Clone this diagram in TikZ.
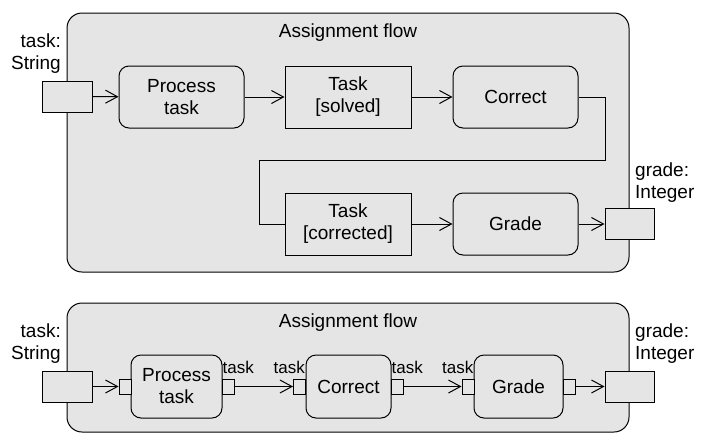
\documentclass[tikz,border=0pt]{standalone}
\usepackage{fontspec}
\setmainfont{Liberation Sans}
\usetikzlibrary{arrows.meta}

\tikzset{
  frame/.style={draw=black, fill=gray!20, rounded corners=15pt, line width=1pt},
  action/.style={draw=black, fill=gray!20, rounded corners=10pt, line width=1pt, align=center, font=\fontsize{19}{22}\selectfont},
  object/.style={draw=black, fill=gray!20, line width=1pt, align=center, font=\fontsize{19}{22}\selectfont, minimum width=126pt, minimum height=62pt},
  param/.style={draw=black, fill=gray!20, line width=1pt, minimum width=50pt, minimum height=31pt, inner sep=0pt},
  port/.style={draw=black, fill=gray!20, line width=1pt, minimum width=12pt, minimum height=15pt, inner sep=0pt},
  txt/.style={font=\fontsize{19}{22}\selectfont, inner sep=0pt},
  small/.style={font=\fontsize{17}{19}\selectfont, inner sep=0pt},
  flow/.style={line width=1pt, -{Straight Barb[length=12pt,width=13pt]}}
}

\begin{document}
\begin{tikzpicture}[x=1pt,y=-1pt]
  \useasboundingbox (0,0) rectangle (711,445);

  % top: objects between actions
  \node (frame1) at (348,142.5) [frame, minimum width=562pt, minimum height=259pt] {};
  \node (title1) at (348,33) [txt] {Assignment flow};

  \node (in1) at (67,96.5) [param] {};
  \node (out1) at (629.5,224) [param, minimum width=49pt] {};
  \node (inlab1) at (61,54) [txt, anchor=east, align=right] {task:\\String};
  \node (outlab1) at (635,183) [txt, anchor=west, align=left] {grade:\\Integer};

  \node (proc1) at (181.5,97) [action, minimum width=125pt, minimum height=62pt] {Process\\task};
  \node (solved) at (348,97) [object] {Task\\{[solved]}};
  \node (corr1) at (515.5,97) [action, minimum width=125pt, minimum height=62pt] {Correct};
  \node (fixed) at (348,224) [object] {Task\\{[corrected]}};
  \node (grade1) at (515.5,224) [action, minimum width=125pt, minimum height=62pt] {Grade};

  \coordinate (turnr) at (605,160);
  \coordinate (turnl) at (259,160);

  \draw[flow] (in1) -- (proc1);
  \draw[flow] (proc1) -- (solved);
  \draw[flow] (solved) -- (corr1);
  \draw[line width=1pt] (corr1.east) -| (turnr) -- (turnl) |- (fixed.west);
  \draw[flow] (fixed) -- (grade1);
  \draw[flow] (grade1) -- (out1);

  % bottom: actions with pins
  \node (frame2) at (348,367.5) [frame, minimum width=562pt, minimum height=129pt] {};
  \node (title2) at (348,323) [txt] {Assignment flow};

  \node (in2) at (67,386.5) [param] {};
  \node (out2) at (629.5,386.5) [param, minimum width=49pt] {};
  \node (inlab2) at (61,344) [txt, anchor=east, align=right] {task:\\String};
  \node (outlab2) at (635,344) [txt, anchor=west, align=left] {grade:\\Integer};

  \node (proc2) at (176.5,386.5) [action, minimum width=91pt, minimum height=63pt] {Process\\task};
  \node (corr2) at (348.5,386.5) [action, minimum width=85pt, minimum height=63pt] {Correct};
  \node (grade2) at (518.5,386.5) [action, minimum width=89pt, minimum height=63pt] {Grade};

  \node (proci) at (125,386.5) [port] {};
  \node (proco) at (228,386.5) [port] {};
  \node (corri) at (299.5,386.5) [port] {};
  \node (corro) at (397,386.5) [port] {};
  \node (gradei) at (468,386.5) [port] {};
  \node (gradeo) at (569.5,386.5) [port] {};

  \node (lproco) at (proco.north west) [small, anchor=south west, yshift=5pt, xshift=1pt] {task};
  \node (lcorri) at (corri.north east) [small, anchor=south east, yshift=5pt, xshift=-1pt] {task};
  \node (lcorro) at (corro.north west) [small, anchor=south west, yshift=5pt, xshift=1pt] {task};
  \node (lgradei) at (gradei.north east) [small, anchor=south east, yshift=5pt, xshift=-1pt] {task};

  \draw[flow] (in2) -- (proci);
  \draw[flow] (proco) -- (corri);
  \draw[flow] (corro) -- (gradei);
  \draw[flow] (gradeo) -- (out2);
\end{tikzpicture}
\end{document}
